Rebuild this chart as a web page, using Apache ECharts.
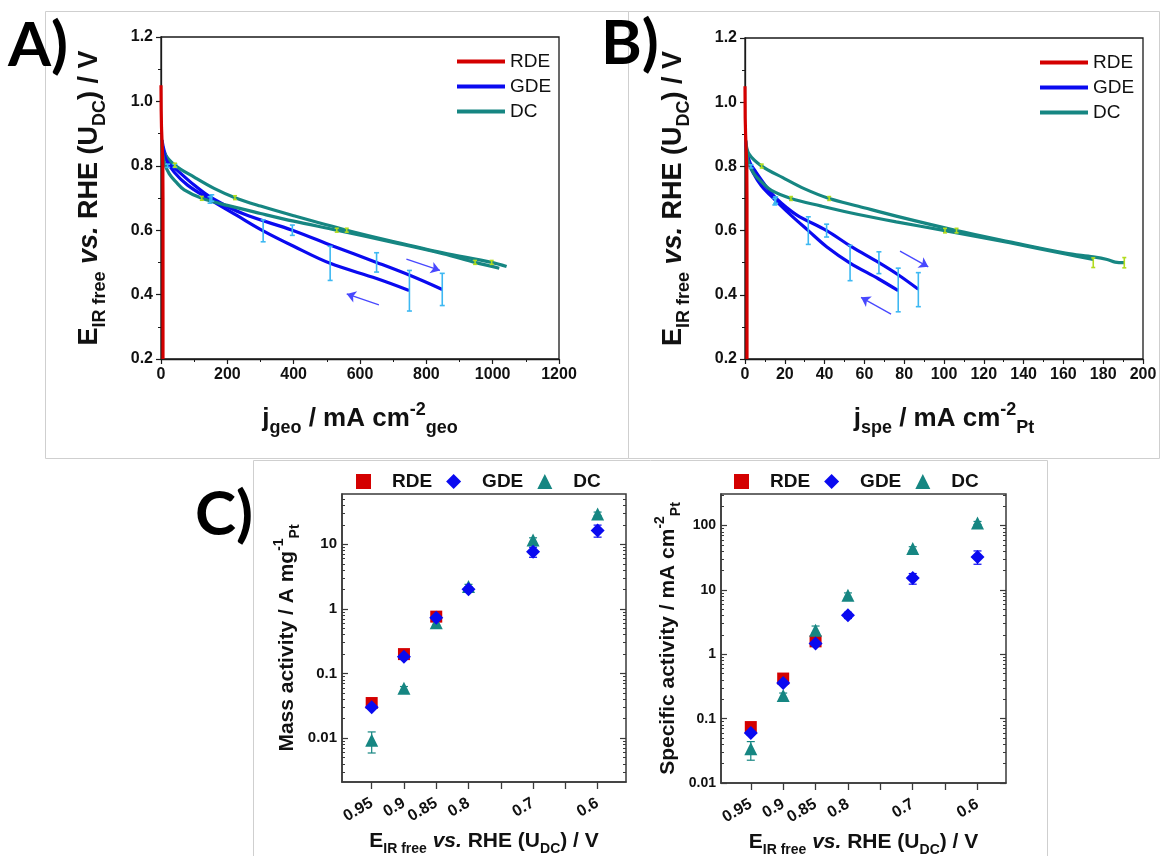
<!DOCTYPE html>
<html>
<head>
<meta charset="utf-8">
<script src="https://cdn.jsdelivr.net/npm/echarts/dist/echarts.min.js"></script>
<style>
html,body{margin:0;padding:0;background:#fff;}
#chart{width:1160px;height:856px;}
</style>
</head>
<body>
<div id="chart"></div>
<script>
// ---------------- DATA ----------------
// Panel A: E (V) vs j_geo (mA cm-2 geo)
const rdeA = [[0,1.05],[0.6,0.97],[1.5,0.92],[3,0.88],[4.5,0.84],[5.5,0.8],[6,0.7],[6,0.2]];
const gdeA_fwd = [[3,0.88],[10,0.845],[25,0.81],[50,0.785],[100,0.74],[153,0.70],[250,0.65],[396,0.60],[520,0.55],[650,0.50],[750,0.46],[848,0.416]];
const gdeA_bwd = [[748,0.413],[650,0.45],[510,0.497],[400,0.55],[308,0.598],[230,0.645],[148,0.695],[80,0.74],[40,0.78],[15,0.82],[5,0.86]];
const dcA_up = [[2,0.88],[10,0.84],[42,0.802],[100,0.765],[160,0.73],[223,0.701],[300,0.675],[400,0.645],[560,0.60],[700,0.565],[850,0.53],[997,0.50],[1042,0.487]];
const dcA_dn = [[2,0.86],[10,0.81],[25,0.775],[45,0.75],[70,0.725],[123,0.699],[200,0.677],[300,0.652],[400,0.628],[530,0.60],[700,0.562],[850,0.527],[947,0.50],[1020,0.482]];
// error bars [j, E, +/-]
const errGdeA = [[20,0.80,0.005],[42,0.80,0.005],[153,0.70,0.01],[396,0.60,0.016],[650,0.50,0.03],[848,0.416,0.05],[148,0.694,0.01],[308,0.598,0.034],[510,0.497,0.053],[749,0.412,0.063]];
const errDcA = [[42,0.802,0.006],[223,0.701,0.006],[123,0.699,0.006],[560,0.60,0.006],[530,0.60,0.006],[997,0.50,0.006],[947,0.50,0.006]];
const arrowsA = [[[740,0.51],[841,0.475]],[[657,0.368],[560,0.402]]];

// Panel B: E (V) vs j_spe (mA cm-2 Pt)
const rdeB = [[0,1.05],[0.1,0.95],[0.3,0.9],[0.6,0.85],[0.9,0.8],[1,0.7],[1,0.2]];
const gdeB_fwd = [[0.3,0.88],[1,0.845],[2.6,0.81],[5.2,0.785],[10.3,0.74],[15.7,0.70],[25.7,0.65],[41,0.60],[53.5,0.55],[67.3,0.50],[77.5,0.46],[87.1,0.417]];
const gdeB_bwd = [[77,0.413],[67,0.45],[52.8,0.499],[41,0.55],[31.8,0.60],[23.6,0.645],[15.2,0.695],[8.2,0.74],[4.1,0.78],[1.5,0.82],[0.5,0.86]];
const dcB_up = [[0.4,0.88],[1.9,0.84],[8.4,0.801],[19,0.765],[30,0.73],[42.3,0.70],[57,0.676],[76,0.645],[106.3,0.60],[133,0.565],[161,0.53],[175,0.518],[182,0.51],[186,0.502],[190.6,0.50]];
const dcB_dn = [[0.4,0.86],[1.9,0.81],[4.7,0.775],[8.6,0.75],[13.3,0.725],[23.1,0.70],[38,0.677],[57,0.65],[76,0.627],[100.5,0.60],[133,0.562],[161,0.527],[175,0.51]];
const errGdeB = [[3,0.80,0.005],[15.4,0.695,0.01],[41,0.60,0.02],[67.3,0.50,0.034],[87.1,0.416,0.053],[15,0.69,0.01],[31.8,0.60,0.043],[52.8,0.499,0.055],[77,0.415,0.068]];
const errDcB = [[8.4,0.801,0.006],[42.3,0.70,0.006],[23.1,0.70,0.006],[106.3,0.60,0.007],[100.5,0.60,0.007],[175,0.50,0.015],[190.6,0.50,0.016]];
const arrowsB = [[[77.9,0.536],[92.1,0.487]],[[73.4,0.34],[58.3,0.392]]];

// Panel C
const potRDE = [0.95,0.9,0.85];
const potAll = [0.95,0.9,0.85,0.8,0.7,0.6];
const massRDE = [0.035,0.20,0.76];
const massGDE = [0.030,0.182,0.73,2.02,7.65,16.4];
const massDC  = [0.0093,0.059,0.61,2.22,11.7,29.4];
const massRDEErr = [[0.95,0.030,0.041],[0.9,0.18,0.22],[0.85,0.68,0.85]];
const massGDEErr = [[0.95,0.028,0.033],[0.9,0.17,0.195],[0.85,0.68,0.78],[0.8,1.85,2.2],[0.7,6.3,9.0],[0.6,12.9,19.8]];
const massDCErr  = [[0.95,0.0059,0.0125],[0.9,0.055,0.063],[0.85,0.56,0.66],[0.8,2.05,2.4],[0.7,10.8,12.6],[0.6,27.5,31.5]];
const specRDE = [0.074,0.42,1.59];
const specGDE = [0.060,0.358,1.47,4.04,15.4,32.6];
const specDC  = [0.034,0.23,2.36,8.27,44,110];
const specRDEErr = [[0.95,0.065,0.083],[0.9,0.39,0.45],[0.85,1.45,1.75]];
const specGDEErr = [[0.95,0.055,0.066],[0.9,0.33,0.39],[0.85,1.35,1.6],[0.8,3.6,4.5],[0.7,12.3,18.0],[0.6,25.1,40.4]];
const specDCErr  = [[0.95,0.0226,0.044],[0.9,0.21,0.25],[0.85,2.15,2.75],[0.8,7.6,9.0],[0.7,41,47],[0.6,104,116]];

const cTicks = [0.95,0.9,0.85,0.8,0.75,0.7,0.65,0.6];
const cLabels = [0.95,0.9,0.85,0.8,0.7,0.6];

// ---------------- STYLE ----------------
const FONT = '"Liberation Sans", Arial, sans-serif';
const RED = '#d40000', BLUE = '#0a0af0', TEAL = '#168682';
const LBLUE = '#3db8f2', YGREEN = '#b2dc1e', ARROW = '#4848ff';
const AX = '#1a1a1a';

function decades(lo, hi){ const o=[]; for(let e=-4;e<=4;e++){const v=Math.pow(10,e); if(v>=lo*0.999&&v<=hi*1.001) o.push(v);} return o; }
function minors(lo, hi){ const o=[]; for(let e=-4;e<=4;e++){ for(let m=2;m<=9;m++){const v=m*Math.pow(10,e); if(v>lo&&v<hi) o.push(v);} } return o; }

function errRender(color, cap, lw){
  return function(params, api){
    const x = api.value(0), lo = api.value(1), hi = api.value(2);
    const a = api.coord([x, lo]), b = api.coord([x, hi]);
    const st = {stroke: color, lineWidth: lw};
    return {type:'group', children:[
      {type:'line', shape:{x1:a[0],y1:a[1],x2:b[0],y2:b[1]}, style:st},
      {type:'line', shape:{x1:a[0]-cap,y1:a[1],x2:a[0]+cap,y2:a[1]}, style:st},
      {type:'line', shape:{x1:b[0]-cap,y1:b[1],x2:b[0]+cap,y2:b[1]}, style:st}
    ]};
  };
}
function toLoHi(arr){ return arr.map(d => [d[0], d[1]-d[2], d[1]+d[2]]); }
function pairs(xs, ys){ return xs.map((x,i)=>[x, ys[i]]); }

function mkRich(main, sub, lh){
  return {
    b:{fontSize:main, fontWeight:'bold', fontFamily:FONT, color:'#111', lineHeight:lh},
    i:{fontSize:main, fontWeight:'bold', fontStyle:'italic', fontFamily:FONT, color:'#111', lineHeight:lh},
    s:{fontSize:sub, fontWeight:'bold', fontFamily:FONT, color:'#111', verticalAlign:'bottom', lineHeight:sub},
    p:{fontSize:sub, fontWeight:'bold', fontFamily:FONT, color:'#111', verticalAlign:'top', lineHeight:sub}
  };
}
const richABy = mkRich(27, 18, 38);
const richABx = mkRich(26, 18, 36);
const richCx = mkRich(21, 14, 30);
const richCy = mkRich(21, 14, 30);
const yNameAB = '{b|E}{s|IR free}{b| }{i|vs.}{b| RHE (U}{s|DC}{b|) / V}';
const xNameC  = '{b|E}{s|IR free}{b| }{i|vs.}{b| RHE (U}{s|DC}{b|) / V}';

function abXAxis(grid, max, interval, name){
  return {gridIndex:grid, type:'value', min:0, max:max, interval:interval, position:'bottom',
    axisLine:{onZero:false, lineStyle:{color:AX, width:1.3}},
    axisTick:{length:5, lineStyle:{color:AX, width:1.2}},
    minorTick:{show:true, splitNumber:2, length:3, lineStyle:{color:AX, width:1}},
    splitLine:{show:false},
    axisLabel:{color:'#111', fontSize:16, fontWeight:'bold', fontFamily:FONT, margin:8, formatter:v=>String(v)},
    name:name, nameLocation:'middle', nameGap:42, nameTextStyle:{rich:richABx}};
}
function abYAxis(grid){
  return {gridIndex:grid, type:'value', min:0.2, max:1.2, interval:0.2, position:'left',
    axisLine:{onZero:false, lineStyle:{color:AX, width:1.3}},
    axisTick:{length:5, lineStyle:{color:AX, width:1.2}},
    minorTick:{show:true, splitNumber:2, length:3, lineStyle:{color:AX, width:1}},
    splitLine:{show:false},
    axisLabel:{color:'#111', fontSize:16, fontWeight:'bold', fontFamily:FONT, margin:8, formatter:v=>v.toFixed(1)},
    name:yNameAB, nameLocation:'middle', nameGap:52, nameTextStyle:{rich:richABy}};
}
function cXAxis(grid){
  return {gridIndex:grid, type:'value', min:0.556, max:0.996, inverse:true, position:'bottom',
    axisLine:{onZero:false, lineStyle:{color:'#3a3a3a', width:1.5}},
    axisTick:{customValues:cTicks, length:7, lineStyle:{color:'#3a3a3a', width:1.3}},
    splitLine:{show:false},
    axisLabel:{customValues:cLabels, rotate:30, color:'#111', fontSize:16, fontWeight:'bold', fontFamily:FONT, margin:20,
      formatter:v=>String(+(+v).toFixed(2))},
    name:xNameC, nameLocation:'middle', nameGap:44, nameTextStyle:{rich:richCx}};
}
function cYAxes(grid, lo, hi, name, nameGap, labelSize){
  const dec = decades(lo, hi), mn = minors(lo, hi);
  const base = {gridIndex:grid, type:'log', logBase:10, min:lo, max:hi, splitLine:{show:false}};
  return [
    Object.assign({}, base, {position:'left',
      axisLine:{onZero:false, lineStyle:{color:'#3a3a3a', width:1.5}},
      axisTick:{customValues:dec, inside:true, length:6, lineStyle:{color:'#3a3a3a', width:1.2}},
      axisLabel:{customValues:dec, color:'#111', fontSize:labelSize, fontWeight:'bold', fontFamily:FONT, margin:5,
        formatter:v=>{const l=Math.log10(v); if(Math.abs(l-Math.round(l))>1e-6) return ''; return String(+(+v).toPrecision(1));}},
      name:name, nameLocation:'middle', nameGap:nameGap, nameTextStyle:{rich:richCy}}),
    Object.assign({}, base, {position:'left', axisLine:{show:false},
      axisTick:{customValues:mn, inside:true, length:3, lineStyle:{color:'#3a3a3a', width:1}}, axisLabel:{show:false}}),
    Object.assign({}, base, {position:'right', axisLine:{show:false},
      axisTick:{customValues:dec, inside:true, length:6, lineStyle:{color:'#3a3a3a', width:1.2}}, axisLabel:{show:false}}),
    Object.assign({}, base, {position:'right', axisLine:{show:false},
      axisTick:{customValues:mn, inside:true, length:3, lineStyle:{color:'#3a3a3a', width:1}}, axisLabel:{show:false}})
  ];
}

function lineSeries(name, color, data, xi, yi, extra){
  return Object.assign({type:'line', name:name, xAxisIndex:xi, yAxisIndex:yi, data:data, showSymbol:false, symbol:'none',
    smooth:0.35, lineStyle:{color:color, width:3.2}, itemStyle:{color:color}, silent:true, z:3}, extra||{});
}
function arrowMark(arrs){
  return {silent:true, symbol:['none','arrow'], symbolSize:9, label:{show:false},
    lineStyle:{color:ARROW, width:1.3, type:'solid'}, emphasis:{disabled:true},
    data: arrs.map(a => [{coord:a[0]},{coord:a[1]}])};
}
function errSeries(data, xi, yi, color, cap, lw, z){
  return {type:'custom', name:'err', xAxisIndex:xi, yAxisIndex:yi, data:data, encode:{x:0, y:[1,2]},
    renderItem:errRender(color, cap, lw), silent:true, z:z||4};
}
function scat(name, sym, size, color, data, xi, yi){
  return {type:'scatter', name:name, xAxisIndex:xi, yAxisIndex:yi, symbol:sym, symbolSize:size,
    itemStyle:{color:color, opacity:1}, data:data, silent:true, z:6};
}

const yC1 = cYAxes(2, 0.0021, 60, '{b|Mass activity / A mg}{p|-1}{s|Pt}', 40, 15);
const yC2 = cYAxes(3, 0.01, 310, '{b|Specific activity / mA cm}{p|-2}{s|Pt}', 38, 14);

const legendText = {fontSize:19, fontFamily:FONT, color:'#111', lineHeight:19};
const legendTextC = {fontSize:19, fontFamily:FONT, fontWeight:'bold', color:'#111', padding:[0,0,0,16]};

const gridBase = {show:true, backgroundColor:'transparent', containLabel:false, outerBoundsMode:'none'};

const option = {
  animation:false,
  backgroundColor:'#fff',
  graphic:[
    {type:'rect', shape:{x:45.5,y:11.5,width:583,height:447}, style:{fill:'none', stroke:'#cfcfcf', lineWidth:1}, z:-10, silent:true},
    {type:'rect', shape:{x:628.5,y:11.5,width:531,height:447}, style:{fill:'none', stroke:'#cfcfcf', lineWidth:1}, z:-10, silent:true},
    {type:'rect', shape:{x:253.5,y:460.5,width:794,height:400}, style:{fill:'none', stroke:'#cfcfcf', lineWidth:1}, z:-10, silent:true},
    {type:'text', left:8, top:15, style:{text:'A)', font:'bold 62px Lato, "Open Sans", sans-serif', fill:'#000'}, silent:true},
    {type:'text', left:601, top:13, style:{text:'B)', font:'bold 62px Lato, "Open Sans", sans-serif', fill:'#000'}, silent:true},
    {type:'text', left:195, top:484, style:{text:'C)', font:'bold 62px Lato, "Open Sans", sans-serif', fill:'#000'}, silent:true}
  ],
  legend:[
    {left:452, top:47, orient:'vertical', itemWidth:48, itemHeight:4, itemGap:6, selectedMode:false,
      data:[{name:'RDE',icon:'rect'},{name:'GDE',icon:'rect'},{name:'DC',icon:'rect'}], textStyle:legendText},
    {left:1035, top:48, orient:'vertical', itemWidth:48, itemHeight:4, itemGap:6, selectedMode:false,
      data:[{name:'RDE',icon:'rect'},{name:'GDE',icon:'rect'},{name:'DC',icon:'rect'}], textStyle:legendText},
    {left:351, top:467, orient:'horizontal', itemWidth:15, itemHeight:15, itemGap:14, selectedMode:false,
      data:[{name:'RDE',icon:'rect'},{name:'GDE',icon:'diamond'},{name:'DC',icon:'triangle'}], textStyle:legendTextC},
    {left:729, top:467, orient:'horizontal', itemWidth:15, itemHeight:15, itemGap:14, selectedMode:false,
      data:[{name:'RDE',icon:'rect'},{name:'GDE',icon:'diamond'},{name:'DC',icon:'triangle'}], textStyle:legendTextC}
  ],
  grid:[
    Object.assign({left:161, top:37, width:398, height:322, borderColor:AX, borderWidth:1.3}, gridBase),
    Object.assign({left:745, top:38, width:398, height:321, borderColor:AX, borderWidth:1.3}, gridBase),
    Object.assign({left:342, top:494, width:284, height:288, borderColor:'#3a3a3a', borderWidth:1.5}, gridBase),
    Object.assign({left:721, top:494, width:285, height:289, borderColor:'#3a3a3a', borderWidth:1.5}, gridBase)
  ],
  xAxis:[
    abXAxis(0, 1200, 200, '{b|j}{s|geo}{b| / mA cm}{p|-2}{s|geo}'),
    abXAxis(1, 200, 20, '{b|j}{s|spe}{b| / mA cm}{p|-2}{s|Pt}'),
    cXAxis(2),
    cXAxis(3)
  ],
  yAxis:[abYAxis(0), abYAxis(1)].concat(yC1, yC2),
  series:[
    // Panel A
    lineSeries('RDE', RED, rdeA, 0, 0, {smooth:false, z:5}),
    lineSeries('GDE', BLUE, gdeA_fwd, 0, 0, {markLine:arrowMark(arrowsA)}),
    lineSeries('DC', TEAL, dcA_up, 0, 0),
    lineSeries('GDE', BLUE, gdeA_bwd, 0, 0),
    lineSeries('DC', TEAL, dcA_dn, 0, 0),
    errSeries(toLoHi(errGdeA), 0, 0, LBLUE, 2.5, 1.6),
    errSeries(toLoHi(errDcA), 0, 0, YGREEN, 2, 1.6),
    // Panel B
    lineSeries('RDE', RED, rdeB, 1, 1, {smooth:false, z:5}),
    lineSeries('GDE', BLUE, gdeB_fwd, 1, 1, {markLine:arrowMark(arrowsB)}),
    lineSeries('GDE', BLUE, gdeB_bwd, 1, 1),
    lineSeries('DC', TEAL, dcB_up, 1, 1),
    lineSeries('DC', TEAL, dcB_dn, 1, 1),
    errSeries(toLoHi(errGdeB), 1, 1, LBLUE, 2.5, 1.6),
    errSeries(toLoHi(errDcB), 1, 1, YGREEN, 2, 1.6),
    // Panel C left (mass activity)
    errSeries(massRDEErr, 2, 2, RED, 4, 1.2, 5),
    errSeries(massDCErr, 2, 2, TEAL, 4, 1.2, 5),
    errSeries(massGDEErr, 2, 2, BLUE, 4, 1.2, 5),
    scat('RDE', 'rect', 12, RED, pairs(potRDE, massRDE), 2, 2),
    scat('DC', 'triangle', 13, TEAL, pairs(potAll, massDC), 2, 2),
    scat('GDE', 'diamond', 14, BLUE, pairs(potAll, massGDE), 2, 2),
    // Panel C right (specific activity)
    errSeries(specRDEErr, 3, 6, RED, 4, 1.2, 5),
    errSeries(specDCErr, 3, 6, TEAL, 4, 1.2, 5),
    errSeries(specGDEErr, 3, 6, BLUE, 4, 1.2, 5),
    scat('RDE', 'rect', 12, RED, pairs(potRDE, specRDE), 3, 6),
    scat('DC', 'triangle', 13, TEAL, pairs(potAll, specDC), 3, 6),
    scat('GDE', 'diamond', 14, BLUE, pairs(potAll, specGDE), 3, 6)
  ]
};

const chart = echarts.init(document.getElementById('chart'), null, {renderer:'canvas'});
chart.setOption(option);
</script>
</body>
</html>
